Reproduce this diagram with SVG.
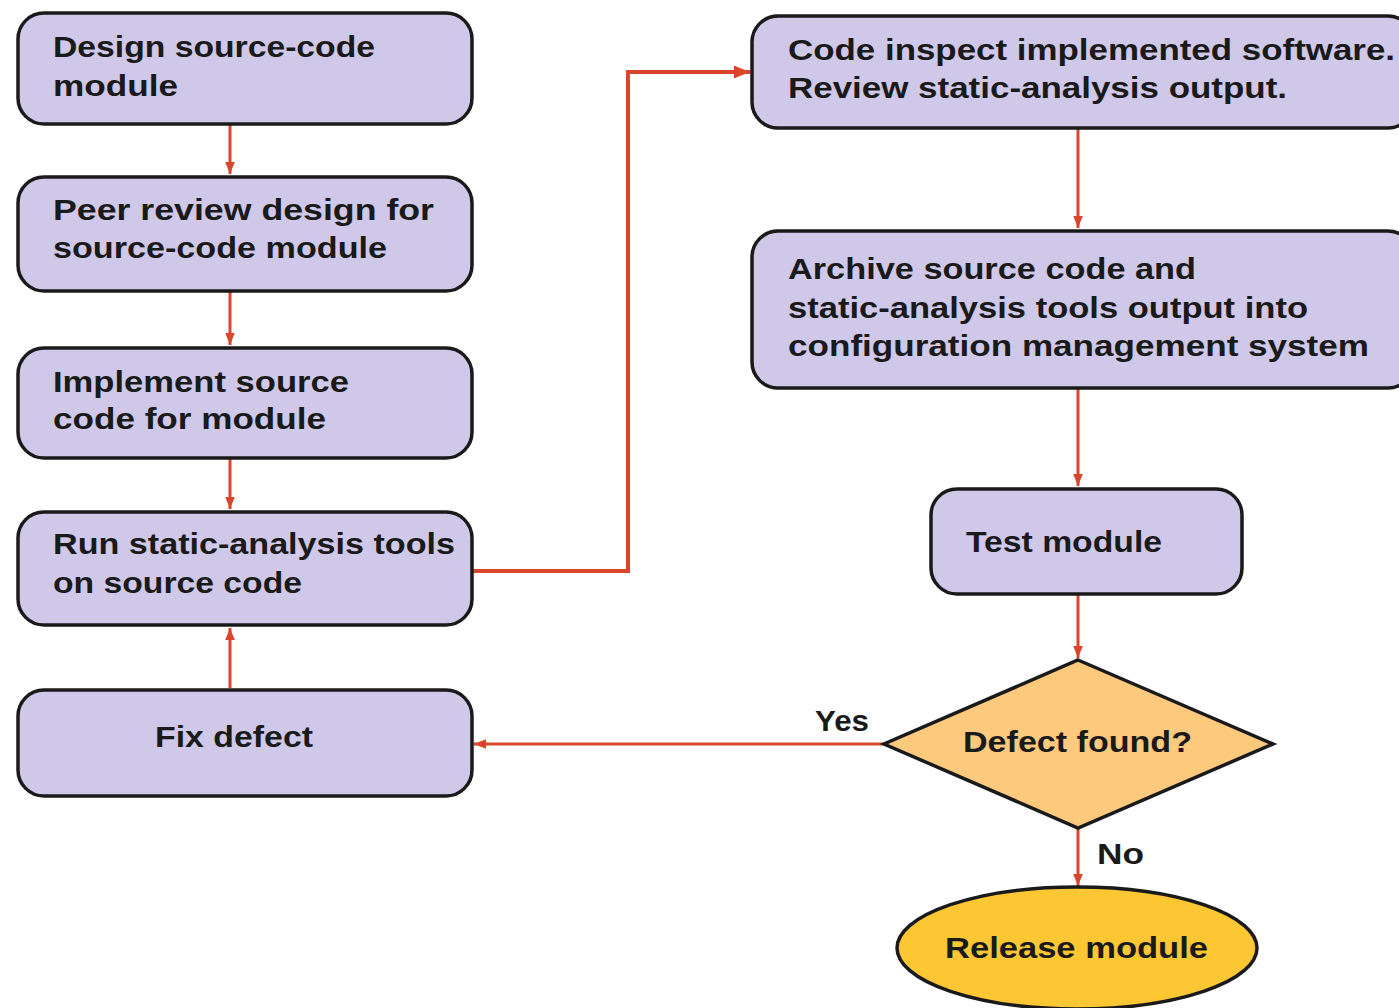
<svg xmlns="http://www.w3.org/2000/svg" width="1399" height="1008" viewBox="0 0 1399 1008">
<style>
.box{fill:#cfc8e9;stroke:#1a1a1a;stroke-width:3.5}
.dia{fill:#fdc97c;stroke:#1a1a1a;stroke-width:3.5}
.ell{fill:#fdc733;stroke:#1a1a1a;stroke-width:3.5}
.t{font-family:"Liberation Sans",Arial,sans-serif;font-weight:bold;font-size:29px;fill:#1a1a1a}
.c{fill:none;stroke:#d8472b;stroke-width:3}
</style>
<defs>
<marker id="ah" viewBox="0 0 10 10" refX="10" refY="5" markerWidth="4" markerHeight="4" orient="auto" markerUnits="strokeWidth">
<path d="M0,1 L10,5 L0,9 z" fill="#d8472b"/>
</marker>
</defs>
<rect width="1399" height="1008" fill="#ffffff"/>
<g id="connectors">
<line class="c" x1="230" y1="125" x2="230" y2="174" marker-end="url(#ah)"/>
<line class="c" x1="230" y1="292" x2="230" y2="345" marker-end="url(#ah)"/>
<line class="c" x1="230" y1="459" x2="230" y2="509" marker-end="url(#ah)"/>
<polyline class="c" style="stroke-width:4" points="472,571 628,571 628,72 750,72" marker-end="url(#ah)"/>
<line class="c" x1="230" y1="688" x2="230" y2="628" marker-end="url(#ah)"/>
<line class="c" x1="1078" y1="129" x2="1078" y2="228" marker-end="url(#ah)"/>
<line class="c" x1="1078" y1="389" x2="1078" y2="486" marker-end="url(#ah)"/>
<line class="c" x1="1078" y1="595" x2="1078" y2="658" marker-end="url(#ah)"/>
<line class="c" x1="884" y1="744" x2="474" y2="744" marker-end="url(#ah)"/>
<line class="c" x1="1078" y1="829" x2="1078" y2="886" marker-end="url(#ah)"/>
<text class="t" x="815" y="731" textLength="54" lengthAdjust="spacingAndGlyphs">Yes</text>
<text class="t" x="1097" y="864" textLength="47" lengthAdjust="spacingAndGlyphs">No</text>
</g>
<g id="n1">
<rect class="box" x="18" y="13" width="454" height="111" rx="26"/>
<text class="t" x="53" y="57" textLength="322" lengthAdjust="spacingAndGlyphs">Design source-code</text>
<text class="t" x="53" y="96" textLength="125" lengthAdjust="spacingAndGlyphs">module</text>
</g>
<g id="n2">
<rect class="box" x="18" y="177" width="454" height="114" rx="26"/>
<text class="t" x="53" y="220" textLength="381" lengthAdjust="spacingAndGlyphs">Peer review design for</text>
<text class="t" x="53" y="258" textLength="334" lengthAdjust="spacingAndGlyphs">source-code module</text>
</g>
<g id="n3">
<rect class="box" x="18" y="348" width="454" height="110" rx="26"/>
<text class="t" x="53" y="392" textLength="296" lengthAdjust="spacingAndGlyphs">Implement source</text>
<text class="t" x="53" y="429" textLength="273" lengthAdjust="spacingAndGlyphs">code for module</text>
</g>
<g id="n4">
<rect class="box" x="18" y="512" width="454" height="113" rx="26"/>
<text class="t" x="53" y="554" textLength="402" lengthAdjust="spacingAndGlyphs">Run static-analysis tools</text>
<text class="t" x="53" y="593" textLength="249" lengthAdjust="spacingAndGlyphs">on source code</text>
</g>
<g id="n5">
<rect class="box" x="18" y="690" width="454" height="106" rx="26"/>
<text class="t" x="155" y="747" textLength="158" lengthAdjust="spacingAndGlyphs">Fix defect</text>
</g>
<g id="n6">
<rect class="box" x="752" y="16" width="662" height="112" rx="26"/>
<text class="t" x="788" y="60" textLength="607" lengthAdjust="spacingAndGlyphs">Code inspect implemented software.</text>
<text class="t" x="788" y="98" textLength="499" lengthAdjust="spacingAndGlyphs">Review static-analysis output.</text>
</g>
<g id="n7">
<rect class="box" x="752" y="231" width="662" height="157" rx="26"/>
<text class="t" x="788" y="279" textLength="408" lengthAdjust="spacingAndGlyphs">Archive source code and</text>
<text class="t" x="788" y="318" textLength="520" lengthAdjust="spacingAndGlyphs">static-analysis tools output into</text>
<text class="t" x="788" y="356" textLength="581" lengthAdjust="spacingAndGlyphs">configuration management system</text>
</g>
<g id="n8">
<rect class="box" x="931" y="489" width="311" height="105" rx="26"/>
<text class="t" x="966" y="552" textLength="196" lengthAdjust="spacingAndGlyphs">Test module</text>
</g>
<g id="n9">
<polygon class="dia" points="1078,660 1273,744 1078,828 884,744"/>
<text class="t" x="963" y="752" textLength="229" lengthAdjust="spacingAndGlyphs">Defect found?</text>
</g>
<g id="n10">
<ellipse class="ell" cx="1077" cy="948" rx="180" ry="61"/>
<text class="t" x="945" y="958" textLength="263" lengthAdjust="spacingAndGlyphs">Release module</text>
</g>
</svg>
